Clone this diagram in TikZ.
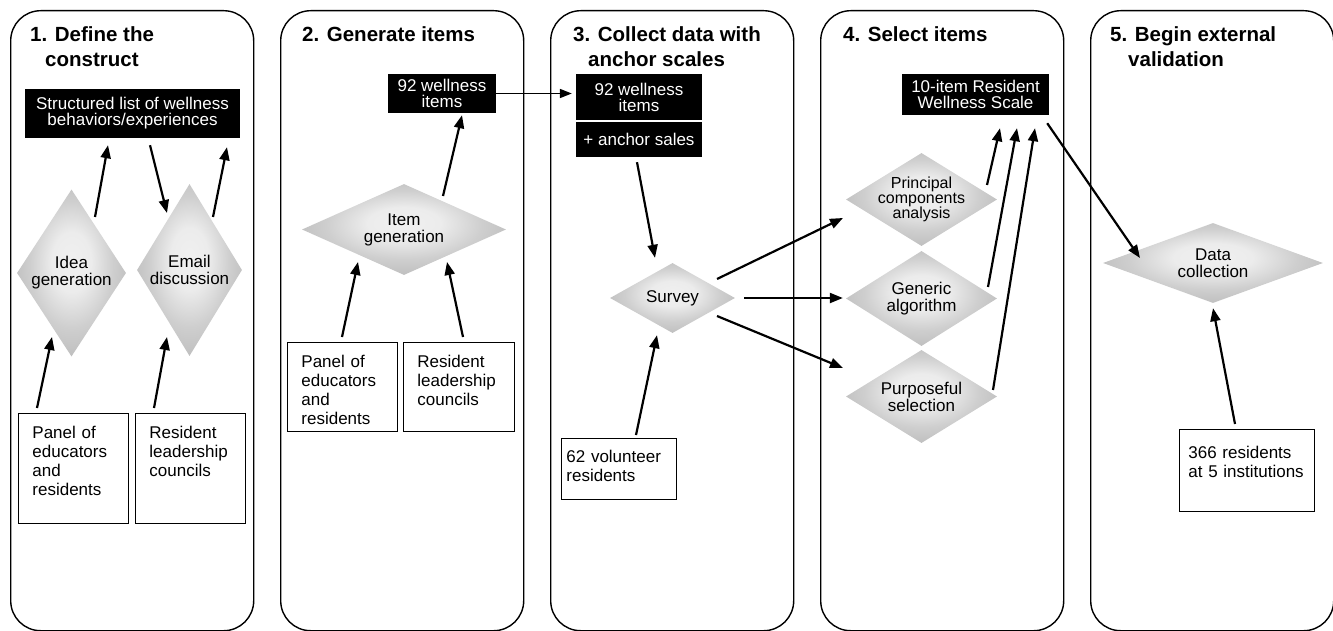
\documentclass[tikz,border=0pt]{standalone}
\usepackage{fontspec}
\setmainfont{Liberation Sans}
\usetikzlibrary{positioning,shapes.geometric,arrows.meta}
\pgfdeclareradialshading{bevel}{\pgfpoint{0bp}{4bp}}{color(0bp)=(gray!12); color(9bp)=(gray!15); color(19bp)=(gray!38); color(27bp)=(gray!50); color(50bp)=(gray!50)}
\tikzstyle{stage}    = [draw=black, line width=1.4pt, rounded corners=30pt, anchor=north west, minimum width=243pt, minimum height=620pt]
\tikzstyle{heading}  = [anchor=base west, inner sep=0pt, align=left, font=\fontsize{20.5}{25}\selectfont\bfseries]
\tikzstyle{output}   = [fill=black, text=white, align=center, inner sep=0pt, font=\fontsize{17}{16}\selectfont]
\tikzstyle{source}   = [draw=black, line width=0.9pt, anchor=north west, align=left, inner ysep=0pt, inner xsep=14pt, text height=25pt, font=\fontsize{17}{19}\selectfont]
\tikzstyle{process}  = [diamond, shading=bevel, align=center, inner sep=-8pt, font=\fontsize{17}{17}\selectfont]
\tikzstyle{arrow}    = [line width=2.2pt, -{Triangle[length=13pt,width=10pt]}]

\begin{document}
\begin{tikzpicture}[x=1pt, y=-1pt]
        \useasboundingbox (0,0) rectangle (1333,631);
        \foreach \k in {0,...,4}
            \node[stage] (stage\k) at (10+270*\k,10) {};

        % 1. define the construct
        \node[heading] (title1) at (30,67) {1. Define the\\\hspace*{15pt}construct};
        \node[output, minimum width=215pt, minimum height=49pt] (list) at (132.5,113.5) {Structured list of wellness\\behaviors/experiences};
        \node[process, minimum width=109pt, minimum height=167pt, shape aspect=0.65] (idea) at (71.5,273) {Idea\\generation};
        \node[process, minimum width=105pt, minimum height=172pt, shape aspect=0.61] (email) at (189.5,270) {Email\\discussion};
        \node[source, text width=82pt, text depth=85pt] (panelA) at (18,413) {Panel of\\educators\\and\\residents};
        \node[source, text width=82pt, text depth=85pt] (councilA) at (135,413) {Resident\\leadership\\councils};
        \draw[arrow] ([shift={(23.5,-56)}]idea.center) -- ([shift={(-24.5,7)}]list.south);
        \draw[arrow] ([shift={(17.5,7)}]list.south) -- ([shift={(-22.5,-57)}]email.center);
        \draw[arrow] ([shift={(23.5,-53)}]email.center) -- ([shift={(94.5,9)}]list.south);
        \draw[arrow] ([shift={(19,-5)}]panelA.north west) -- ([shift={(-19.5,64)}]idea.center);
        \draw[arrow] ([shift={(19,-5)}]councilA.north west) -- ([shift={(-22.5,67)}]email.center);

        % 2. generate items
        \node[heading] (title2) at (302,42) {2. Generate items};
        \node[output, minimum width=108pt, minimum height=39pt] (items) at (442,93.5) {92 wellness\\items};
        \node[process, minimum width=204pt, minimum height=91pt, shape aspect=2.24] (itemgen) at (404,229.5) {Item\\generation};
        \node[source, text width=82pt, text depth=64pt] (panelB) at (287,342) {Panel of\\educators\\and\\residents};
        \node[source, text width=83pt, text depth=64pt] (councilB) at (403,342) {Resident\\leadership\\councils};
        \draw[arrow] ([shift={(39,-33.5)}]itemgen.center) -- ([shift={(20,2)}]items.south);
        \draw[arrow] ([shift={(55,-5)}]panelB.north west) -- ([shift={(-46,32.5)}]itemgen.center);
        \draw[arrow] ([shift={(60,-5)}]councilB.north west) -- ([shift={(43,32.5)}]itemgen.center);

        % 3. collect data
        \node[heading] (title3) at (573,67) {3. Collect data with\\\hspace*{15pt}anchor scales};
        \node[output, minimum width=126pt, minimum height=46pt] (itemsC) at (639,97) {92 wellness\\items};
        \node[output, minimum width=126pt, minimum height=35pt] (anchors) at (639,139.5) {+ anchor sales};
        \node[process, minimum width=125pt, minimum height=70pt, shape aspect=1.79] (survey) at (672.5,298) {Survey};
        \node[source, inner xsep=5pt, text width=105pt, text height=24pt, text depth=37pt] (volunteers) at (561,438) {62 volunteer\\residents};
        \draw[line width=1.6pt, -{Triangle[length=12pt,width=9pt]}, shorten >=4pt] (items.east) -- (items.east -| itemsC.west);
        \draw[arrow] ([shift={(-2,5)}]anchors.south) -- ([shift={(-17.5,-5)}]survey.north);
        \draw[arrow] ([shift={(75,-3)}]volunteers.north west) -- ([shift={(-15.5,2)}]survey.south);

        % 4. select items
        \node[heading] (title4) at (843,42) {4. Select items};
        \node[output, minimum width=147pt, minimum height=41pt] (scale) at (975.5,94.5) {10-item Resident\\Wellness Scale};
        \node[process, minimum width=151pt, minimum height=93pt, shape aspect=1.62, font=\fontsize{16}{15}\selectfont] (pca) at (921.5,199.5) {Principal\\components\\analysis};
        \node[process, minimum width=151pt, minimum height=95pt, shape aspect=1.59] (genetic) at (921.5,298.5) {Generic\\algorithm};
        \node[process, minimum width=151pt, minimum height=93pt, shape aspect=1.62] (purpose) at (921.5,396.5) {Purposeful\\selection};
        \draw[arrow] ([shift={(44.5,-19)}]survey.center) -- ([shift={(-78.5,18.5)}]pca.center);
        \draw[arrow, shorten >=3pt] ([shift={(9,0)}]survey.east) -- (survey.east -| genetic.west);
        \draw[arrow] ([shift={(44.5,18)}]survey.center) -- ([shift={(-78.5,-28.5)}]purpose.center);
        \draw[arrow] ([shift={(65.5,-14.5)}]pca.center) -- ([shift={(24.5,13)}]scale.south);
        \draw[arrow] ([shift={(66.5,-11.5)}]genetic.center) -- ([shift={(41.5,13)}]scale.south);
        \draw[arrow] ([shift={(71.5,-6.5)}]purpose.center) -- ([shift={(59.5,13)}]scale.south);

        % 5. external validation
        \node[heading] (title5) at (1110,67) {5. Begin external\\\hspace*{18pt}validation};
        \node[process, minimum width=220pt, minimum height=80pt, shape aspect=2.75] (datacol) at (1213,263) {Data\\collection};
        \node[source, inner xsep=9pt, text width=117pt, text height=29pt, text depth=53pt] (sites) at (1179,429) {366 residents\\at 5 institutions};
        \draw[arrow] ([shift={(-2,8)}]scale.south east) -- ([shift={(-73,-5)}]datacol.center);
        \draw[arrow] ([shift={(56,-5)}]sites.north west) -- ([shift={(0,5)}]datacol.south);
\end{tikzpicture}
\end{document}
